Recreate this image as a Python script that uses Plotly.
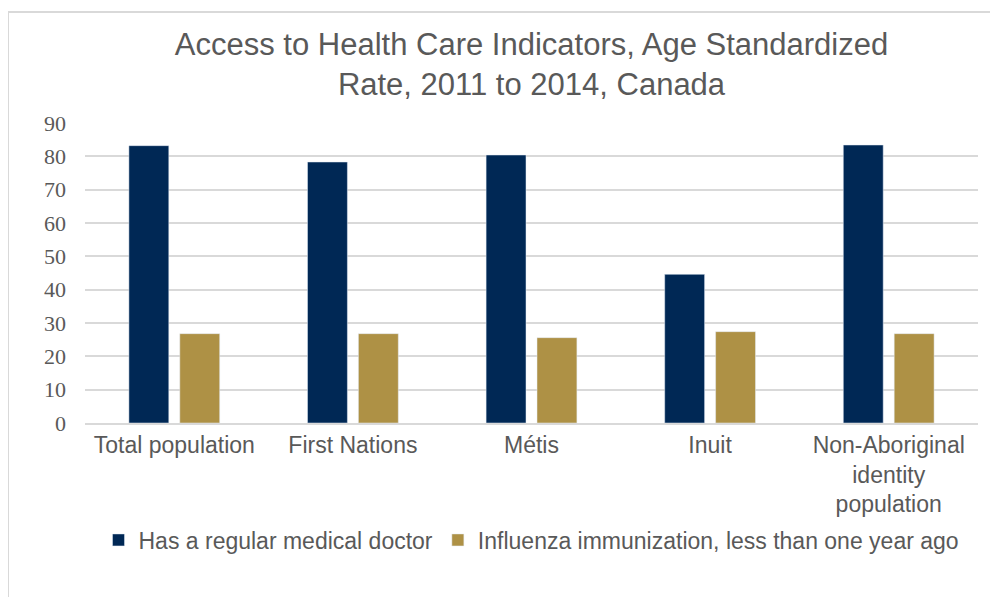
import plotly.graph_objects as go

categories = ["Total population", "First Nations", "Métis", "Inuit",
              "Non-Aboriginal<br>identity<br>population"]
doctor = [83.2, 78.3, 80.4, 44.6, 83.4]
flu = [26.8, 26.8, 25.6, 27.4, 26.8]
series_names = ["Has a regular medical doctor",
                "Influenza immunization, less than one year ago"]
y_ticks = [0, 10, 20, 30, 40, 50, 60, 70, 80, 90]

OFF = 8  # page body margin
W, H = 998 - OFF, 597 - OFF
# target plot area in page pixels: x 85..978, y 123..423
L, R, T, B = 85 - OFF, 998 - 978, 123 - OFF, 597 - 423
pw, ph = W - L - R, H - T - B

def px_x(x):  # page pixel -> paper x
    return (x - OFF - L) / pw

def px_y(y):  # page pixel -> paper y
    return (H - B - (y - OFF)) / ph

fig = go.Figure()
fig.add_trace(go.Bar(x=categories, y=doctor, name=series_names[0],
                     marker_color="#002855"))
fig.add_trace(go.Bar(x=categories, y=flu, name=series_names[1],
                     marker_color="#ae9145"))

border = dict(type="line", xref="paper", yref="paper",
              line=dict(color="#d9d9d9", width=2))
fig.update_layout(
    width=W, height=H,
    margin=dict(l=L, r=R, t=T, b=B, autoexpand=False),
    paper_bgcolor="white", plot_bgcolor="white",
    barmode="group", bargap=0.43, bargroupgap=0.216,
    title=dict(text="Access to Health Care Indicators, Age Standardized<br>Rate, 2011 to 2014, Canada",
               x=0.5, xref="paper", xanchor="center", y=1 - (55 - OFF) / H, yanchor="middle",
               font=dict(family="Liberation Sans, Arial", size=31, color="#595959")),
    showlegend=True,
    legend=dict(orientation="h", x=0.5, xanchor="center", xref="paper",
                y=px_y(540), yanchor="middle",
                font=dict(family="Liberation Sans, Arial", size=23, color="#595959"),
                itemwidth=30, traceorder="normal"),
    xaxis=dict(showgrid=False, ticks="", showline=True, linecolor="#d9d9d9", linewidth=2,
               tickfont=dict(family="Liberation Sans, Arial", size=23, color="#595959")),
    yaxis=dict(range=[0, 90], tickvals=y_ticks, showgrid=True, gridcolor="#d9d9d9",
               gridwidth=2, zeroline=False, ticks="", ticklabelstandoff=18,
               tickfont=dict(family="Liberation Serif, Times New Roman", size=22, color="#595959")),
    shapes=[
        dict(border, x0=px_x(8), x1=px_x(998 + 5), y0=px_y(12), y1=px_y(12)),
        dict(border, x0=px_x(8), x1=px_x(8), y0=px_y(12), y1=px_y(597 + 5)),
    ],
)

fig.write_html("out.html")
